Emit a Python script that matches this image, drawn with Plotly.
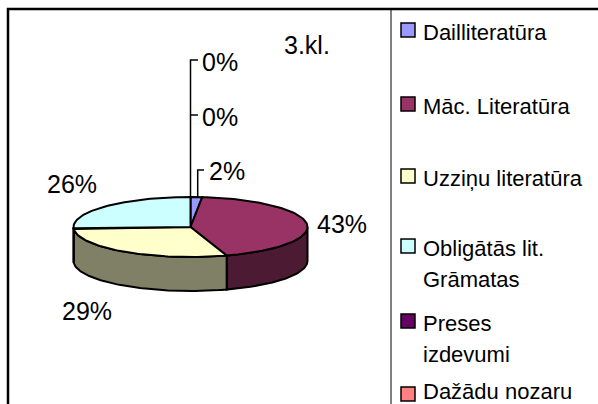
import numpy as np
import plotly.graph_objects as go

# ---- data ----
categories = ["Dailliteratūra", "Māc. Literatūra", "Uzziņu literatūra",
              "Obligātās lit. Grāmatas", "Preses izdevumi", "Dažādu nozaru"]
values = [1.6, 43.4, 29.0, 26.0, 0.0, 0.0]
legend_lines = [["Dailliteratūra"], ["Māc. Literatūra"], ["Uzziņu literatūra"],
                ["Obligātās lit.", "Grāmatas"], ["Preses", "izdevumi"], ["Dažādu nozaru"]]
title_text = "3.kl."

# ---- styles / layout ----
top_colors = ["#9999FF", "#993366", "#FFFFCC", "#CCFFFF", "#660066", "#FF8080"]
side_colors = ["#4D4D80", "#4D1A33", "#808066", "#668080", "#330033", "#804040"]
label_pos = [(207, 171, "left"), (342, 224, "center"), (87, 311, "center"),
             (72, 184, "center"), (200, 117, "left"), (200, 62, "left")]
legend_sq_y = [30, 104, 176, 246, 321, 394]
legend_txt_dy = [2, 2, 2, 2, 2, -3]
FONT = "Liberation Sans, Arial, sans-serif"

CX, CY, RX, RY, DEPTH = 190.5, 227.0, 117.0, 30.0, 34.0
W, H = 598, 404


def arc(a1, a2, dy=0.0, n=80):
    t = np.radians(np.linspace(a1, a2, n))
    return list(CX + RX * np.sin(t)), list(CY - RY * np.cos(t) + dy)


fig = go.Figure()
total = sum(values)
cum = np.concatenate([[0], np.cumsum(values)]) / total * 360.0

# side faces (front half: 90..270 degrees clockwise from top)
for i, v in enumerate(values):
    if v <= 0:
        continue
    lo, hi = max(cum[i], 90.0), min(cum[i + 1], 270.0)
    if hi <= lo:
        continue
    xt, yt = arc(lo, hi)
    xb, yb = arc(hi, lo, DEPTH)
    fig.add_trace(go.Scatter(x=xt + xb + [xt[0]], y=yt + yb + [yt[0]],
                             fill="toself", fillcolor=side_colors[i], mode="lines",
                             line=dict(color="black", width=2),
                             hoverinfo="skip", showlegend=False))

# top faces
for i, v in enumerate(values):
    if v <= 0:
        continue
    xa, ya = arc(cum[i], cum[i + 1])
    fig.add_trace(go.Scatter(x=[CX] + xa + [CX], y=[CY] + ya + [CY],
                             fill="toself", fillcolor=top_colors[i], mode="lines",
                             line=dict(color="black", width=2),
                             hoverinfo="skip", showlegend=False))

annotations = []
for i, v in enumerate(values):
    x, y, anc = label_pos[i]
    annotations.append(dict(x=x, y=y, xref="x", yref="y", text=f"{v / total * 100:.0f}%",
                            showarrow=False, xanchor=anc, yanchor="middle",
                            font=dict(family=FONT, size=25, color="black")))

annotations.append(dict(x=307, y=45, xref="x", yref="y", text=title_text, showarrow=False,
                        xanchor="center", yanchor="middle",
                        font=dict(family=FONT, size=25, color="black")))

shapes = []
# leader lines
shapes.append(dict(type="path", path=f"M 198 60 L {CX} 60 L {CX} {CY - RY}",
                   line=dict(color="black", width=1.5), xref="x", yref="y"))
shapes.append(dict(type="line", x0=CX, x1=198, y0=115, y1=115,
                   line=dict(color="black", width=1.5), xref="x", yref="y"))
shapes.append(dict(type="path", path="M 204 170 L 197.7 170 L 197.7 197.5",
                   line=dict(color="black", width=1.5), xref="x", yref="y"))

# legend
for i, lines in enumerate(legend_lines):
    yc = legend_sq_y[i]
    shapes.append(dict(type="rect", x0=401, x1=415, y0=yc - 7, y1=yc + 7,
                       fillcolor=top_colors[i], line=dict(color="black", width=1.5),
                       xref="x", yref="y"))
    for j, line in enumerate(lines):
        annotations.append(dict(x=421, y=yc + legend_txt_dy[i] + j * 31, xref="x", yref="y",
                                text=line, showarrow=False, xanchor="left", yanchor="middle",
                                font=dict(family=FONT, size=22, color="black")))

# borders
shapes.append(dict(type="rect", x0=391, x1=700, y0=9, y1=500,
                   line=dict(color="black", width=1), xref="x", yref="y"))
shapes.append(dict(type="rect", x0=8, x1=700, y0=9, y1=500,
                   line=dict(color="black", width=2.5), xref="x", yref="y"))

fig.update_layout(
    width=W, height=H, margin=dict(l=0, r=0, t=0, b=0),
    paper_bgcolor="white", plot_bgcolor="white",
    xaxis=dict(range=[0, W], visible=False, fixedrange=True),
    yaxis=dict(range=[H, 0], visible=False, fixedrange=True),
    shapes=shapes, annotations=annotations, showlegend=False,
)

fig.write_html("out.html", config={"displayModeBar": False},
               post_script="document.body.style.margin='0';document.body.style.overflow='hidden';")
